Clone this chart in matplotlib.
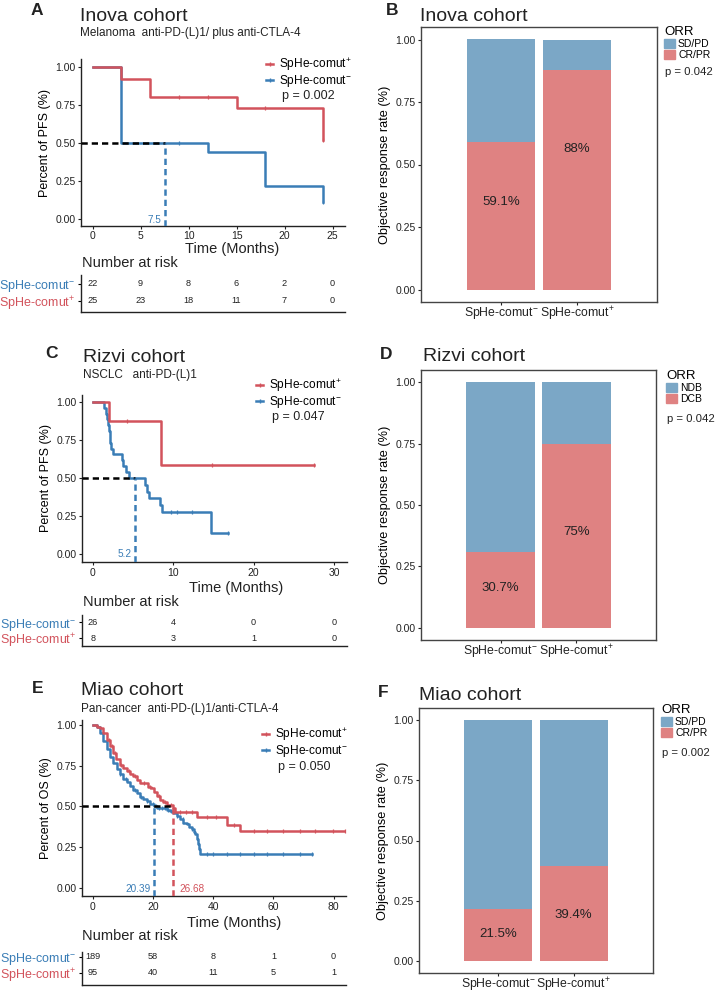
import matplotlib
matplotlib.use("Agg")
import matplotlib.pyplot as plt
import numpy as np
from matplotlib.lines import Line2D
from matplotlib.patches import Patch

plt.rcParams['font.family'] = ['Liberation Sans', 'DejaVu Sans']
plt.rcParams['mathtext.fontset'] = 'custom'
plt.rcParams['mathtext.rm'] = 'Liberation Sans'
plt.rcParams['mathtext.it'] = 'Liberation Sans:italic'
plt.rcParams['mathtext.bf'] = 'Liberation Sans:bold'

# -------------------------------
# Data
# -------------------------------
PLUS = 'SpHe-comut$^{+}$'
MINUS = 'SpHe-comut$^{-}$'

# Inova cohort (PFS)
inova_plus_t = [0, 3, 6, 15, 24]
inova_plus_s = [1.00, 0.92, 0.80, 0.73, 0.52]
inova_plus_cens = [9, 12, 18, 24]
inova_minus_t = [0, 3, 12, 18, 24]
inova_minus_s = [1.00, 0.50, 0.44, 0.22, 0.11]
inova_minus_cens = [9, 24]
inova_median = {"minus": 7.5}
inova_risk_t = [0, 5, 10, 15, 20, 25]
inova_risk_minus = [22, 9, 8, 6, 2, 0]
inova_risk_plus = [25, 23, 18, 11, 7, 0]

# Rizvi cohort (PFS)
rizvi_plus_t = [0, 2.0, 8.5]
rizvi_plus_s = [1.00, 0.874, 0.583]
rizvi_plus_cens = [4.2, 14.8, 27.5]
rizvi_minus_t = [0, 1.4, 1.6, 1.8, 1.9, 2.0, 2.1, 2.2, 2.3, 2.5, 3.6, 3.8, 4.1, 4.5,
                 6.5, 6.7, 7.0, 8.4, 8.6, 14.7]
rizvi_minus_s = [1.00, 0.962, 0.923, 0.885, 0.846, 0.808, 0.769, 0.731, 0.692, 0.654,
                 0.615, 0.577, 0.538, 0.50, 0.455, 0.409, 0.364, 0.318, 0.273, 0.136]
rizvi_minus_cens = [9.7, 10.5, 12.3, 16.8]
rizvi_median = {"minus": 5.2}
rizvi_risk_t = [0, 10, 20, 30]
rizvi_risk_minus = [26, 4, 0, 0]
rizvi_risk_plus = [8, 3, 1, 0]

# Miao cohort (OS)
miao_minus_t = [0, 1.5, 2.4, 3.5, 4.6, 5.7, 6.8, 8.0, 9.0, 10.1, 11.3, 12.4, 13.5, 14.6,
                15.7, 16.8, 17.9, 19.0, 20.2, 21.5, 24.6, 25.7, 26.8, 27.9, 29.0, 30.1,
                31.2, 32.1, 32.9, 33.5, 34.0, 34.5, 35.1, 35.4, 35.7]
miao_minus_s = [1.00, 0.99, 0.95, 0.90, 0.85, 0.80, 0.765, 0.73, 0.70, 0.67, 0.65, 0.625,
                0.60, 0.58, 0.56, 0.545, 0.53, 0.515, 0.50, 0.49, 0.48, 0.47, 0.46, 0.44,
                0.42, 0.40, 0.39, 0.375, 0.36, 0.345, 0.33, 0.30, 0.27, 0.24, 0.21]
miao_minus_cens = [9, 11, 14, 16, 18, 20, 21, 22, 23, 24, 25, 26, 28, 30, 33, 38, 40,
                   44.5, 48.9, 53.4, 57.8, 63.3, 68.9, 72.8]
miao_plus_t = [0, 1.3, 2.4, 3.5, 4.6, 5.7, 6.8, 7.9, 9.0, 10.1, 11.3, 12.4, 13.5, 14.6,
               15.7, 18.5, 19.3, 20.2, 21.3, 22.4, 23.5, 24.6, 26.8, 27.4, 34.6, 44.6, 48.9]
miao_plus_s = [1.00, 0.99, 0.98, 0.95, 0.91, 0.87, 0.83, 0.79, 0.755, 0.735, 0.715, 0.70,
               0.685, 0.66, 0.642, 0.62, 0.61, 0.59, 0.565, 0.54, 0.525, 0.51, 0.49,
               0.468, 0.433, 0.387, 0.346]
miao_plus_cens = [5.5, 6.5, 7.5, 9.5, 12, 14, 17, 19, 22, 24, 26, 29, 31, 33, 38, 41, 47,
                  53.4, 57.8, 63.3, 68.9, 73.8, 79.9, 83.8]
miao_median = {"minus": 20.39, "plus": 26.68}
miao_risk_t = [0, 20, 40, 60, 80]
miao_risk_minus = [189, 58, 8, 1, 0]
miao_risk_plus = [95, 40, 11, 5, 1]

# Response rates (responders share)
bar_groups = [MINUS, PLUS]
inova_resp = [0.591, 0.88]
inova_resp_lbl = ["59.1%", "88%"]
rizvi_resp = [0.307, 0.75]
rizvi_resp_lbl = ["30.7%", "75%"]
miao_resp = [0.215, 0.394]
miao_resp_lbl = ["21.5%", "39.4%"]

# -------------------------------
# Style / layout
# -------------------------------
W, H = 716, 992
RED = "#D2535C"
BLUE = "#3A7DB6"
BAR_RED = "#DF8282"
BAR_BLUE = "#7BA7C6"
DARK = "#222222"

fig = plt.figure(figsize=(W / 100, H / 100), dpi=100)


def px_ax(l, t, r, b):
    return fig.add_axes([l / W, 1 - b / H, (r - l) / W, (b - t) / H])


def ftext(x, y, s, **kw):
    return fig.text(x / W, 1 - y / H, s, **kw)


def step_val(t, s, x):
    return s[np.searchsorted(t, x, side="right") - 1]


def km_panel(rect, xlim, ylim, xticks, curves, medians, ylabel, leg_anchor, pval, pval_xy):
    ax = px_ax(*rect)
    span = xlim[1] - xlim[0]
    for t, s, cens, col in curves:
        t = np.array(t); s = np.array(s)
        end = max(cens[-1], t[-1])
        ax.step(np.r_[t, end], np.r_[s, s[-1]], where="post", color=col, lw=1.8, zorder=3)
        cy = [step_val(t, s, c) for c in cens]
        ax.plot(cens, cy, ls="none", marker="|", ms=3.5, mew=0.9, color=col, zorder=3)
    # median lines
    mx = max(medians.values())
    ax.plot([xlim[0], mx], [0.5, 0.5], color="black", lw=1.8, ls=(0, (2.5, 1.6)), zorder=4)
    for key, m in medians.items():
        col = BLUE if key == "minus" else RED
        ax.plot([m, m], [ylim[0], 0.5], color=col, lw=1.8, ls=(0, (2.5, 1.6)), zorder=4)
        if key == "minus":
            ax.text(m - 0.013 * span, -0.005, f"{m:g}", color=col, fontsize=7.2,
                    ha="right", va="center")
        else:
            ax.text(m + 0.025 * span, -0.005, f"{m:g}", color=col, fontsize=7.2,
                    ha="left", va="center")
    ax.set_xlim(*xlim)
    ax.set_ylim(*ylim)
    ax.set_xticks(xticks)
    ax.set_yticks([0, 0.25, 0.5, 0.75, 1.0])
    ax.set_yticklabels(["0.00", "0.25", "0.50", "0.75", "1.00"])
    for sp in ["top", "right"]:
        ax.spines[sp].set_visible(False)
    for sp in ["left", "bottom"]:
        ax.spines[sp].set_linewidth(1.0)
        ax.spines[sp].set_color(DARK)
    ax.tick_params(labelsize=7.5, length=2.5, width=0.8, pad=1.5, colors=DARK)
    ax.set_ylabel(ylabel, fontsize=9, labelpad=3)
    handles = [Line2D([], [], color=RED, lw=1.8, marker="|", ms=3),
               Line2D([], [], color=BLUE, lw=1.8, marker="|", ms=3)]
    ax.legend(handles, [PLUS, MINUS], loc="upper left", fontsize=8.6,
              bbox_to_anchor=(leg_anchor[0] / W, 1 - leg_anchor[1] / H),
              bbox_transform=fig.transFigure, frameon=False, handlelength=0.6,
              handletextpad=0.45, labelspacing=0.0, borderpad=0, borderaxespad=0)
    ftext(pval_xy[0], pval_xy[1], pval, fontsize=9, va="center", color=DARK)
    return ax


def risk_table(rect, xlim, ylim, times, minus, plus):
    ax = px_ax(*rect)
    for x, n in zip(times, minus):
        ax.text(x, 1, str(n), ha="center", va="center", fontsize=6.6, color=DARK)
    for x, n in zip(times, plus):
        ax.text(x, 0, str(n), ha="center", va="center", fontsize=6.6, color=DARK)
    ax.set_xlim(*xlim)
    ax.set_ylim(*ylim)
    ax.set_xticks([])
    ax.set_yticks([1, 0])
    ax.set_yticklabels([MINUS, PLUS], fontsize=9)
    for lbl, col in zip(ax.get_yticklabels(), [BLUE, RED]):
        lbl.set_color(col)
    for sp in ["top", "right"]:
        ax.spines[sp].set_visible(False)
    for sp in ["left", "bottom"]:
        ax.spines[sp].set_linewidth(1.0)
        ax.spines[sp].set_color(DARK)
    ax.tick_params(axis="y", length=2.5, width=0.8, pad=1.5)
    return ax


def bar_panel(rect, resp, lbls, lbl_y, leg_labels, leg_anchor, pval, pval_xy):
    ax = px_ax(*rect)
    x = np.arange(len(bar_groups))
    resp = np.array(resp)
    ax.bar(x, resp, width=0.9, color=BAR_RED, zorder=2)
    ax.bar(x, 1 - resp, bottom=resp, width=0.9, color=BAR_BLUE, zorder=2)
    for xi, ly, s in zip(x, lbl_y, lbls):
        ax.text(xi, ly, s, ha="center", va="center", fontsize=9.5, color=DARK)
    ax.set_xlim(-1.05, 2.05)
    ax.set_ylim(-0.05, 1.05)
    ax.set_xticks(x)
    ax.set_xticklabels(bar_groups, fontsize=8.8)
    ax.set_yticks([0, 0.25, 0.5, 0.75, 1.0])
    ax.set_yticklabels(["0.00", "0.25", "0.50", "0.75", "1.00"])
    for sp in ax.spines.values():
        sp.set_linewidth(1.0)
        sp.set_color("#444444")
    ax.tick_params(axis="y", labelsize=7.5, length=2.5, width=0.8, pad=1.5, colors=DARK)
    ax.tick_params(axis="x", length=2, width=0.8, pad=0.0, colors=DARK)
    ax.set_ylabel("Objective response rate (%)", fontsize=9.2, labelpad=3)
    handles = [Patch(color=BAR_BLUE), Patch(color=BAR_RED)]
    ax.legend(handles, leg_labels, title="ORR", loc="upper left", fontsize=7.5,
              title_fontsize=9.5, bbox_to_anchor=(leg_anchor[0] / W, 1 - leg_anchor[1] / H),
              bbox_transform=fig.transFigure, frameon=False, handlelength=1.05,
              handleheight=0.95, handletextpad=0.3, labelspacing=0.08,
              borderpad=0, borderaxespad=0, alignment="left")
    ftext(pval_xy[0], pval_xy[1], pval, fontsize=8.2, va="center", color=DARK)
    return ax


# -------------------------------
# Panels A / B  (Inova)
# -------------------------------
ftext(31, 15, "A", fontsize=12.5, fontweight="bold", color=DARK)
ftext(80, 21, "Inova cohort", fontsize=14, color=DARK)
ftext(80, 36, "Melanoma  anti-PD-(L)1/ plus anti-CTLA-4", fontsize=8.5, color=DARK)
km_panel((81, 59.4, 345, 225.8), (-1.2, 26.3), (-0.045, 1.05), inova_risk_t,
         [(inova_minus_t, inova_minus_s, inova_minus_cens, BLUE),
          (inova_plus_t, inova_plus_s, inova_plus_cens, RED)],
         inova_median, "Percent of PFS (%)", (266, 56), "p = 0.002", (282, 96))
ftext(232, 249, "Time (Months)", fontsize=10.5, ha="center", va="center", color=DARK)
ftext(82, 263, "Number at risk", fontsize=10.5, va="center", color=DARK)
risk_table((81, 275, 345, 312), (-1.2, 26.3), (-0.65, 1.53),
           inova_risk_t, inova_risk_minus, inova_risk_plus)

ftext(386, 15, "B", fontsize=12.5, fontweight="bold", color=DARK)
ftext(420, 21, "Inova cohort", fontsize=14, color=DARK)
bar_panel((421, 27, 657, 302), inova_resp, inova_resp_lbl, [0.35, 0.56],
          ["SD/PD", "CR/PR"], (664, 26), "p = 0.042", (665, 72))

# -------------------------------
# Panels C / D  (Rizvi)
# -------------------------------
ftext(45, 358, "C", fontsize=12.5, fontweight="bold", color=DARK)
ftext(83, 362, "Rizvi cohort", fontsize=14, color=DARK)
ftext(83, 378, "NSCLC   anti-PD-(L)1", fontsize=8.5, color=DARK)
km_panel((82, 395, 347, 562), (-1.33, 31.6), (-0.056, 1.046), rizvi_risk_t,
         [(rizvi_minus_t, rizvi_minus_s, rizvi_minus_cens, BLUE),
          (rizvi_plus_t, rizvi_plus_s, rizvi_plus_cens, RED)],
         rizvi_median, "Percent of PFS (%)", (256, 377), "p = 0.047", (272, 417))
ftext(236, 588, "Time (Months)", fontsize=10.5, ha="center", va="center", color=DARK)
ftext(83, 602, "Number at risk", fontsize=10.5, va="center", color=DARK)
risk_table((82, 615, 347, 646), (-1.33, 31.6), (-0.5, 1.44),
           rizvi_risk_t, rizvi_risk_minus, rizvi_risk_plus)

ftext(380, 359, "D", fontsize=12.5, fontweight="bold", color=DARK)
ftext(423, 361, "Rizvi cohort", fontsize=14, color=DARK)
bar_panel((421, 370, 656, 640), rizvi_resp, rizvi_resp_lbl, [0.16, 0.39],
          ["NDB", "DCB"], (666, 370), "p = 0.042", (667, 419))

# -------------------------------
# Panels E / F  (Miao)
# -------------------------------
ftext(32, 693, "E", fontsize=12.5, fontweight="bold", color=DARK)
ftext(81, 695, "Miao cohort", fontsize=14, color=DARK)
ftext(81, 712, "Pan-cancer  anti-PD-(L)1/anti-CTLA-4", fontsize=8.5, color=DARK)
km_panel((82, 720, 346, 896), (-3.55, 84.1), (-0.05, 1.03), miao_risk_t,
         [(miao_minus_t, miao_minus_s, miao_minus_cens, BLUE),
          (miao_plus_t, miao_plus_s, miao_plus_cens, RED)],
         miao_median, "Percent of OS (%)", (262, 726), "p = 0.050", (278, 767))
ftext(234, 923, "Time (Months)", fontsize=10.5, ha="center", va="center", color=DARK)
ftext(82, 936, "Number at risk", fontsize=10.5, va="center", color=DARK)
risk_table((82, 952, 346, 985), (-3.55, 84.1), (-0.75, 1.31),
           miao_risk_t, miao_risk_minus, miao_risk_plus)

ftext(378, 697, "F", fontsize=12.5, fontweight="bold", color=DARK)
ftext(419, 700, "Miao cohort", fontsize=14, color=DARK)
bar_panel((419, 708, 653, 973), miao_resp, miao_resp_lbl, [0.11, 0.19],
          ["SD/PD", "CR/PR"], (661, 704), "p = 0.002", (662, 753))

fig.savefig("out.png", dpi=100)
